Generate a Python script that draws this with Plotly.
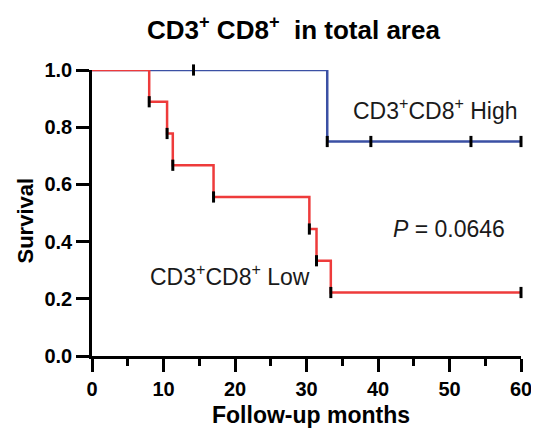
import plotly.graph_objects as go

# Data
low_times = [0, 8, 10.5, 11.3, 17, 30.4, 31.4, 33.4, 60]
low_surv = [1.0, 0.889, 0.778, 0.667, 0.556, 0.444, 0.333, 0.222, 0.222]
low_mark_times = [8, 10.5, 11.3, 17, 30.4, 31.4, 33.4, 60]
low_mark_surv = [0.889, 0.778, 0.667, 0.556, 0.444, 0.333, 0.222, 0.222]

high_times = [0, 32.9, 60]
high_surv = [1.0, 0.75, 0.75]
high_mark_times = [14.2, 32.9, 39, 53, 60]
high_mark_surv = [1.0, 0.75, 0.75, 0.75, 0.75]

x_ticks = [0, 10, 20, 30, 40, 50, 60]
y_ticks = [0.0, 0.2, 0.4, 0.6, 0.8, 1.0]

BLUE = "#3B50A4"
RED = "#EE3B3B"
FONT = "Arial, Liberation Sans, sans-serif"

fig = go.Figure()
fig.add_trace(go.Scatter(x=high_times, y=high_surv, mode="lines", line_shape="hv",
                         line=dict(color=BLUE, width=2.5), cliponaxis=False, showlegend=False))
fig.add_trace(go.Scatter(x=low_times, y=low_surv, mode="lines", line_shape="hv",
                         line=dict(color=RED, width=2.5), cliponaxis=False, showlegend=False))
for xs, ys in [(high_mark_times, high_mark_surv), (low_mark_times, low_mark_surv)]:
    fig.add_trace(go.Scatter(x=xs, y=ys, mode="markers", cliponaxis=False, showlegend=False,
                             marker=dict(symbol="line-ns", size=8,
                                         line=dict(color="black", width=3))))

fig.add_annotation(x=36.2, y=0.864, xref="x", yref="y", xanchor="left", yanchor="middle",
                   text="CD3<sup>+</sup>CD8<sup>+</sup> High", showarrow=False,
                   font=dict(family=FONT, size=23, color="#1a1a1a"))
fig.add_annotation(x=41.8, y=0.444, xref="x", yref="y", xanchor="left", yanchor="middle",
                   text="<i>P</i> = 0.0646", showarrow=False,
                   font=dict(family=FONT, size=23, color="#1a1a1a"))
fig.add_annotation(x=7.9, y=0.283, xref="x", yref="y", xanchor="left", yanchor="middle",
                   text="CD3<sup>+</sup>CD8<sup>+</sup> Low", showarrow=False,
                   font=dict(family=FONT, size=23, color="#1a1a1a"))
fig.add_annotation(x=0.469, y=1.145, xref="paper", yref="paper", xanchor="center", yanchor="middle",
                   text="<b>CD3<sup>+</sup> CD8<sup>+</sup>  in total area</b>", showarrow=False,
                   font=dict(family=FONT, size=26, color="black"))
fig.add_annotation(x=0.51, y=-0.205, xref="paper", yref="paper", xanchor="center", yanchor="middle",
                   text="<b>Follow-up months</b>", showarrow=False,
                   font=dict(family=FONT, size=23, color="black"))
fig.add_annotation(x=-0.155, y=0.472, xref="paper", yref="paper", xanchor="center", yanchor="middle",
                   text="<b>Survival</b>", showarrow=False, textangle=-90,
                   font=dict(family=FONT, size=22, color="black"))

# page body has an 8px default margin, so the figure is offset by 8px
fig.update_layout(
    width=531, height=427,
    margin=dict(l=84, r=18, t=62, b=79, autoexpand=False),
    plot_bgcolor="white", paper_bgcolor="white",
    font=dict(family=FONT, color="black"),
)
fig.update_xaxes(range=[0, 60], tickvals=x_ticks, ticks="outside", ticklen=13, tickwidth=2.5,
                 tickcolor="black", showline=True, linecolor="black", linewidth=2.5,
                 showgrid=False, zeroline=False, automargin=False,
                 tickfont=dict(family=FONT, size=20, weight="bold"),
                 minor=dict(dtick=5, ticks="outside", ticklen=7, tickwidth=2.5, tickcolor="black", showgrid=False))
fig.update_yaxes(range=[0, 1.0], tickvals=y_ticks, tickformat=".1f", ticks="outside", ticklen=13,
                 tickwidth=2.5, tickcolor="black", showline=True, linecolor="black", linewidth=2.5,
                 showgrid=False, zeroline=False, automargin=False,
                 tickfont=dict(family=FONT, size=20, weight="bold"))

fig.write_html("out.html")
